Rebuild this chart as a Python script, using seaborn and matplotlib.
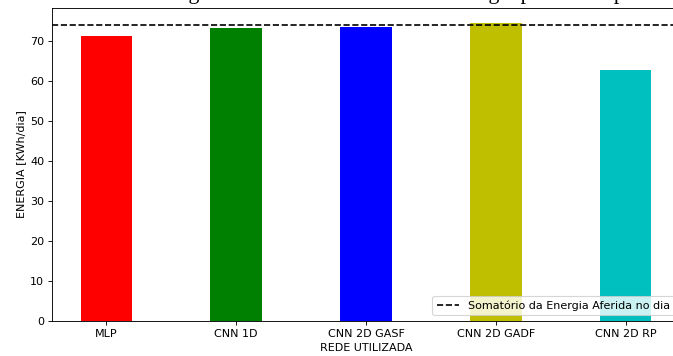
import matplotlib
matplotlib.use("Agg")
import matplotlib.pyplot as plt
import seaborn as sns

# Energia diária estimada por cada rede
redes = ["MLP", "CNN 1D", "CNN 2D GASF", "CNN 2D GADF", "CNN 2D RP"]
energia_estimada = [71.2, 73.1, 73.3, 74.4, 62.7]
cores = ["r", "g", "b", "y", "c"]

# Energia aferida no dia (referência)
energia_aferida = 73.9

titulo = "Somatório da Energia Estimada x Somatório da Energia produzida por dia"

W, H, DPI = 673, 356, 80
fig = plt.figure(figsize=(W / DPI, H / DPI), dpi=DPI)
ax = fig.add_axes([52 / W, 35 / H, 628 / W, 313 / H])

sns.barplot(x=redes, y=energia_estimada, hue=redes, palette=cores,
            width=0.4, saturation=1, linewidth=0, legend=False, ax=ax)

ax.axhline(energia_aferida, color="k", linestyle="--", linewidth=1.5,
           label="Somatório da Energia Aferida no dia")

ax.set_xlim(-0.42, 4.42)
ax.set_ylim(0, max(energia_estimada) * 1.05)
ax.set_xlabel("REDE UTILIZADA")
ax.set_ylabel("ENERGIA [KWh/dia]")
ax.legend(loc="lower right")

fig.text(24 / W, (H + 1) / H, titulo, ha="left", va="baseline",
         fontsize=22 * 72 / DPI, family="Liberation Serif")

fig.savefig("out.png", dpi=DPI)
